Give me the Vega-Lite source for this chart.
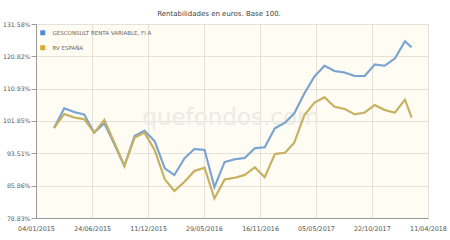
{
  "$schema": "https://vega.github.io/schema/vega-lite/v6.json",
  "width": 392,
  "height": 194,
  "autosize": {"type": "none"},
  "padding": {"left": 36, "top": 24, "right": 22, "bottom": 22},
  "background": "#ffffff",
  "config": {
    "font": "DejaVu Sans",
    "view": {"fill": "#fffcf3", "stroke": "#c9c6bf", "strokeWidth": 1}
  },
  "title": {
    "text": "Rentabilidades en euros. Base 100.",
    "fontSize": 7,
    "fontWeight": "normal",
    "color": "#444444",
    "anchor": "middle",
    "frame": "group",
    "dx": -13,
    "dy": 6,
    "offset": 4,
    "baseline": "alphabetic"
  },
  "datasets": {
    "series": [
      {"date": "2015-02-28", "series": "GESCONSULT RENTA VARIABLE, FI A", "value": 100.0},
      {"date": "2015-03-31", "series": "GESCONSULT RENTA VARIABLE, FI A", "value": 105.33},
      {"date": "2015-04-30", "series": "GESCONSULT RENTA VARIABLE, FI A", "value": 104.29},
      {"date": "2015-05-31", "series": "GESCONSULT RENTA VARIABLE, FI A", "value": 103.61},
      {"date": "2015-06-30", "series": "GESCONSULT RENTA VARIABLE, FI A", "value": 98.75},
      {"date": "2015-07-31", "series": "GESCONSULT RENTA VARIABLE, FI A", "value": 101.23},
      {"date": "2015-08-31", "series": "GESCONSULT RENTA VARIABLE, FI A", "value": 95.69},
      {"date": "2015-09-30", "series": "GESCONSULT RENTA VARIABLE, FI A", "value": 90.43},
      {"date": "2015-10-31", "series": "GESCONSULT RENTA VARIABLE, FI A", "value": 97.89},
      {"date": "2015-11-30", "series": "GESCONSULT RENTA VARIABLE, FI A", "value": 99.27},
      {"date": "2015-12-31", "series": "GESCONSULT RENTA VARIABLE, FI A", "value": 96.61},
      {"date": "2016-01-31", "series": "GESCONSULT RENTA VARIABLE, FI A", "value": 89.89},
      {"date": "2016-02-29", "series": "GESCONSULT RENTA VARIABLE, FI A", "value": 88.31},
      {"date": "2016-03-31", "series": "GESCONSULT RENTA VARIABLE, FI A", "value": 92.29},
      {"date": "2016-04-30", "series": "GESCONSULT RENTA VARIABLE, FI A", "value": 94.59},
      {"date": "2016-05-31", "series": "GESCONSULT RENTA VARIABLE, FI A", "value": 94.34},
      {"date": "2016-06-30", "series": "GESCONSULT RENTA VARIABLE, FI A", "value": 85.55},
      {"date": "2016-07-31", "series": "GESCONSULT RENTA VARIABLE, FI A", "value": 91.40},
      {"date": "2016-08-31", "series": "GESCONSULT RENTA VARIABLE, FI A", "value": 92.05},
      {"date": "2016-09-30", "series": "GESCONSULT RENTA VARIABLE, FI A", "value": 92.37},
      {"date": "2016-10-31", "series": "GESCONSULT RENTA VARIABLE, FI A", "value": 94.76},
      {"date": "2016-11-30", "series": "GESCONSULT RENTA VARIABLE, FI A", "value": 95.01},
      {"date": "2016-12-31", "series": "GESCONSULT RENTA VARIABLE, FI A", "value": 99.90},
      {"date": "2017-01-31", "series": "GESCONSULT RENTA VARIABLE, FI A", "value": 101.39},
      {"date": "2017-02-28", "series": "GESCONSULT RENTA VARIABLE, FI A", "value": 103.94},
      {"date": "2017-03-31", "series": "GESCONSULT RENTA VARIABLE, FI A", "value": 109.58},
      {"date": "2017-04-30", "series": "GESCONSULT RENTA VARIABLE, FI A", "value": 114.49},
      {"date": "2017-05-31", "series": "GESCONSULT RENTA VARIABLE, FI A", "value": 117.86},
      {"date": "2017-06-30", "series": "GESCONSULT RENTA VARIABLE, FI A", "value": 116.23},
      {"date": "2017-07-31", "series": "GESCONSULT RENTA VARIABLE, FI A", "value": 115.76},
      {"date": "2017-08-31", "series": "GESCONSULT RENTA VARIABLE, FI A", "value": 114.70},
      {"date": "2017-09-30", "series": "GESCONSULT RENTA VARIABLE, FI A", "value": 114.70},
      {"date": "2017-10-31", "series": "GESCONSULT RENTA VARIABLE, FI A", "value": 118.23},
      {"date": "2017-11-30", "series": "GESCONSULT RENTA VARIABLE, FI A", "value": 117.86},
      {"date": "2017-12-31", "series": "GESCONSULT RENTA VARIABLE, FI A", "value": 120.12},
      {"date": "2018-01-31", "series": "GESCONSULT RENTA VARIABLE, FI A", "value": 125.70},
      {"date": "2018-02-20", "series": "GESCONSULT RENTA VARIABLE, FI A", "value": 123.73},
      {"date": "2015-02-28", "series": "RV ESPAÑA", "value": 100.0},
      {"date": "2015-03-31", "series": "RV ESPAÑA", "value": 103.75},
      {"date": "2015-04-30", "series": "RV ESPAÑA", "value": 102.79},
      {"date": "2015-05-31", "series": "RV ESPAÑA", "value": 102.31},
      {"date": "2015-06-30", "series": "RV ESPAÑA", "value": 98.75},
      {"date": "2015-07-31", "series": "RV ESPAÑA", "value": 102.12},
      {"date": "2015-08-31", "series": "RV ESPAÑA", "value": 96.10},
      {"date": "2015-09-30", "series": "RV ESPAÑA", "value": 90.43},
      {"date": "2015-10-31", "series": "RV ESPAÑA", "value": 97.45},
      {"date": "2015-11-30", "series": "RV ESPAÑA", "value": 98.75},
      {"date": "2015-12-31", "series": "RV ESPAÑA", "value": 94.34},
      {"date": "2016-01-31", "series": "RV ESPAÑA", "value": 87.31},
      {"date": "2016-02-29", "series": "RV ESPAÑA", "value": 84.66},
      {"date": "2016-03-31", "series": "RV ESPAÑA", "value": 86.76},
      {"date": "2016-04-30", "series": "RV ESPAÑA", "value": 89.25},
      {"date": "2016-05-31", "series": "RV ESPAÑA", "value": 90.03},
      {"date": "2016-06-30", "series": "RV ESPAÑA", "value": 82.99},
      {"date": "2016-07-31", "series": "RV ESPAÑA", "value": 87.27},
      {"date": "2016-08-31", "series": "RV ESPAÑA", "value": 87.66},
      {"date": "2016-09-30", "series": "RV ESPAÑA", "value": 88.31},
      {"date": "2016-10-31", "series": "RV ESPAÑA", "value": 90.13},
      {"date": "2016-11-30", "series": "RV ESPAÑA", "value": 87.78},
      {"date": "2016-12-31", "series": "RV ESPAÑA", "value": 93.34},
      {"date": "2017-01-31", "series": "RV ESPAÑA", "value": 93.66},
      {"date": "2017-02-28", "series": "RV ESPAÑA", "value": 96.17},
      {"date": "2017-03-31", "series": "RV ESPAÑA", "value": 103.47},
      {"date": "2017-04-30", "series": "RV ESPAÑA", "value": 106.89},
      {"date": "2017-05-31", "series": "RV ESPAÑA", "value": 108.42},
      {"date": "2017-06-30", "series": "RV ESPAÑA", "value": 105.77},
      {"date": "2017-07-31", "series": "RV ESPAÑA", "value": 105.13},
      {"date": "2017-08-31", "series": "RV ESPAÑA", "value": 103.67},
      {"date": "2017-09-30", "series": "RV ESPAÑA", "value": 104.11},
      {"date": "2017-10-31", "series": "RV ESPAÑA", "value": 106.24},
      {"date": "2017-11-30", "series": "RV ESPAÑA", "value": 104.85},
      {"date": "2017-12-31", "series": "RV ESPAÑA", "value": 104.11},
      {"date": "2018-01-31", "series": "RV ESPAÑA", "value": 107.74},
      {"date": "2018-02-20", "series": "RV ESPAÑA", "value": 102.79}
    ],
    "watermark": [
      {"date": "2016-08-19", "value": 100.78, "label": "quefondos.com"}
    ]
  },
  "encoding": {
    "x": {
      "field": "date",
      "type": "temporal",
      "scale": {
        "type": "utc",
        "nice": false,
        "domain": [
          {"year": 2015, "month": 1, "date": 4, "utc": true},
          {"year": 2018, "month": 4, "date": 11, "utc": true}
        ]
      },
      "axis": {
        "title": null,
        "values": [
          {"year": 2015, "month": 1, "date": 4, "utc": true},
          {"year": 2015, "month": 6, "date": 24, "utc": true},
          {"year": 2015, "month": 12, "date": 11, "utc": true},
          {"year": 2016, "month": 5, "date": 29, "utc": true},
          {"year": 2016, "month": 11, "date": 16, "utc": true},
          {"year": 2017, "month": 5, "date": 5, "utc": true},
          {"year": 2017, "month": 10, "date": 22, "utc": true},
          {"year": 2018, "month": 4, "date": 11, "utc": true}
        ],
        "labelExpr": "utcFormat(datum.value, '%d/%m/%Y')",
        "labelFlush": false,
        "labelOverlap": false,
        "labelBound": false,
        "labelFontSize": 6.4,
        "labelColor": "#555555",
        "labelPadding": 7,
        "tickSize": 0,
        "domainColor": "#999999",
        "grid": true,
        "gridColor": "#e6e2d9"
      }
    },
    "y": {
      "field": "value",
      "type": "quantitative",
      "scale": {"type": "log", "domain": [78.83, 131.58], "nice": false, "zero": false},
      "axis": {
        "title": null,
        "values": [78.83, 85.86, 93.51, 101.85, 110.93, 120.82, 131.58],
        "labelExpr": "format(datum.value, '.2f') + '%'",
        "labelFontSize": 6.2,
        "labelColor": "#555555",
        "labelPadding": 1,
        "labelOverlap": false,
        "labelFlush": false,
        "tickSize": 5,
        "tickColor": "#999999",
        "domainColor": "#999999",
        "grid": true,
        "gridColor": "#e6e2d9"
      }
    }
  },
  "layer": [
    {
      "data": {"name": "watermark"},
      "mark": {"type": "text", "fontSize": 23, "color": "#ecebe6", "align": "center", "baseline": "alphabetic"},
      "encoding": {"text": {"field": "label"}}
    },
    {
      "data": {"name": "series"},
      "mark": {"type": "line", "strokeWidth": 2.2, "opacity": 0.25, "color": "#888888"},
      "encoding": {"detail": {"field": "series"}}
    },
    {
      "data": {"name": "series"},
      "mark": {"type": "line", "strokeWidth": 2},
      "encoding": {
        "color": {
          "field": "series",
          "type": "nominal",
          "scale": {"domain": ["GESCONSULT RENTA VARIABLE, FI A", "RV ESPAÑA"], "range": ["#76a4d3", "#c9b15c"]},
          "legend": {
            "title": null,
            "orient": "none",
            "legendX": 4,
            "legendY": 6,
            "symbolType": "square",
            "symbolSize": 25,
            "symbolStrokeWidth": 0,
            "labelFontSize": 5.5,
            "labelColor": "#666666",
            "labelOffset": 7,
            "rowPadding": 8,
            "encode": {
              "symbols": {
                "update": {
                  "fill": {"signal": "datum.value === 'RV ESPAÑA' ? '#d9a82a' : '#4d8fd6'"},
                  "opacity": {"value": 1}
                }
              }
            }
          }
        }
      }
    }
  ]
}
